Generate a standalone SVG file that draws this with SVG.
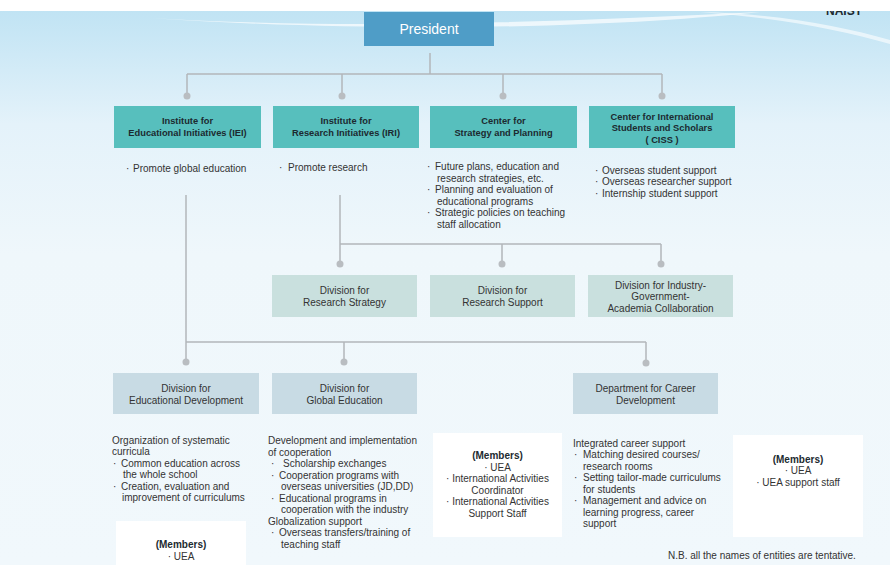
<svg xmlns="http://www.w3.org/2000/svg" width="890" height="565" viewBox="0 0 890 565">
<defs>
<linearGradient id="bg" x1="0" y1="0" x2="0" y2="1">
<stop offset="0" stop-color="#bde2f3"/>
<stop offset="0.22" stop-color="#e4f2fa"/>
<stop offset="0.45" stop-color="#eff7fb"/>
<stop offset="1" stop-color="#f1f8fc"/>
</linearGradient>
<style>
text{font-family:"Liberation Sans",Arial,sans-serif;fill:#333;font-size:10px}
.c{text-anchor:middle}
.b{font-weight:bold;fill:#1c2a30}
.t{font-size:9.3px}
.pres{fill:#4f9dc7}
.teal{fill:#57bfbd}
.divg{fill:#c9e0de}
.divb{fill:#c8dbe4}
.mem{fill:#ffffff}
.ln{stroke:#b2b6ba;stroke-width:1.5;fill:none}
.dot{fill:#b9bdc1}
</style>
</defs>
<rect x="0" y="0" width="890" height="565" fill="url(#bg)"/>
<path d="M150,18 C350,30 560,22 760,12 C650,24 420,36 150,18 Z" fill="#ffffff" opacity="0.7"/>
<path d="M700,12 C780,18 840,30 890,44 L890,40 C840,26 780,14 700,12 Z" fill="#ffffff" opacity="0.6"/>
<text x="826" y="15" class="b" style="font-size:12px">NAIST</text>
<rect x="0" y="0" width="890" height="11" fill="#ffffff"/>

<g id="connectors">
<path class="ln" d="M430,53 V74 M187,74 H662 M187,74 V95 M342,74 V95 M503,74 V95 M662,74 V95"/>
<path class="ln" d="M340,195 V264 M340,244 H661 M502,244 V264 M661,244 V264"/>
<path class="ln" d="M186,195 V362 M186,342 H646 M344,342 V362 M646,342 V362"/>
<circle class="dot" cx="187" cy="96" r="3.5"/>
<circle class="dot" cx="342" cy="96" r="3.5"/>
<circle class="dot" cx="503" cy="96" r="3.5"/>
<circle class="dot" cx="662" cy="96" r="3.5"/>
<circle class="dot" cx="340" cy="264" r="3.5"/>
<circle class="dot" cx="502" cy="264" r="3.5"/>
<circle class="dot" cx="661" cy="264" r="3.5"/>
<circle class="dot" cx="186" cy="362" r="3.5"/>
<circle class="dot" cx="344" cy="362" r="3.5"/>
<circle class="dot" cx="646" cy="363" r="3.5"/>
</g>

<g id="president">
<rect class="pres" x="364" y="12" width="130" height="34"/>
<text x="429" y="34" class="c" style="fill:#ffffff;font-size:14px">President</text>
</g>

<g id="iei">
<rect class="teal" x="114" y="106" width="147" height="42"/>
<text x="187.5" y="124" class="c b t">Institute for</text>
<text x="187.5" y="136" class="c b t">Educational Initiatives (IEI)</text>
<text y="172"><tspan x="126">·</tspan><tspan x="133">Promote global education</tspan></text>
</g>

<g id="iri">
<rect class="teal" x="273" y="106" width="146" height="42"/>
<text x="346" y="124" class="c b t">Institute for</text>
<text x="346" y="136" class="c b t">Research Initiatives (IRI)</text>
<text y="171"><tspan x="279">·</tspan><tspan x="288">Promote research</tspan></text>
</g>

<g id="csp">
<rect class="teal" x="430" y="106" width="147" height="42"/>
<text x="503.5" y="124" class="c b t">Center for</text>
<text x="503.5" y="136" class="c b t">Strategy and Planning</text>
<text y="170"><tspan x="427">·</tspan><tspan x="435">Future plans, education and</tspan></text>
<text x="437" y="181.5">research strategies, etc.</text>
<text y="193"><tspan x="427">·</tspan><tspan x="435">Planning and evaluation of</tspan></text>
<text x="437" y="204.5">educational programs</text>
<text y="216"><tspan x="427">·</tspan><tspan x="435">Strategic policies on teaching</tspan></text>
<text x="437" y="227.5">staff allocation</text>
</g>

<g id="ciss">
<rect class="teal" x="589" y="106" width="146" height="42"/>
<text x="662" y="119.5" class="c b t">Center for International</text>
<text x="662" y="131" class="c b t">Students and Scholars</text>
<text x="662" y="142.5" class="c b t">( CISS )</text>
<text y="173.5"><tspan x="595">·</tspan><tspan x="602">Overseas student support</tspan></text>
<text y="185"><tspan x="595">·</tspan><tspan x="602">Overseas researcher support</tspan></text>
<text y="196.5"><tspan x="595">·</tspan><tspan x="602">Internship student support</tspan></text>
</g>

<g id="div-research-strategy">
<rect class="divg" x="272" y="275" width="145" height="42"/>
<text x="344.5" y="294" class="c">Division for</text>
<text x="344.5" y="306" class="c">Research Strategy</text>
</g>

<g id="div-research-support">
<rect class="divg" x="430" y="275" width="145" height="42"/>
<text x="502.5" y="294" class="c">Division for</text>
<text x="502.5" y="306" class="c">Research Support</text>
</g>

<g id="div-industry">
<rect class="divg" x="588" y="275" width="145" height="42"/>
<text x="660.5" y="288.5" class="c">Division for Industry-</text>
<text x="660.5" y="300" class="c">Government-</text>
<text x="660.5" y="311.5" class="c">Academia Collaboration</text>
</g>

<g id="div-edu-dev">
<rect class="divb" x="113" y="373" width="146" height="41"/>
<text x="186" y="391.5" class="c">Division for</text>
<text x="186" y="404" class="c">Educational Development</text>
<text x="112" y="443.5">Organization of systematic</text>
<text x="112" y="455">curricula</text>
<text y="466.5"><tspan x="113">·</tspan><tspan x="121">Common education across</tspan></text>
<text x="123" y="478">the whole school</text>
<text y="489.5"><tspan x="113">·</tspan><tspan x="121">Creation, evaluation and</tspan></text>
<text x="122" y="501">improvement of curriculums</text>
</g>

<g id="members-edu">
<rect class="mem" x="116" y="521" width="130" height="44"/>
<text x="181" y="548" class="c b">(Members)</text>
<text x="181" y="560" class="c">· UEA</text>
</g>

<g id="div-global-edu">
<rect class="divb" x="272" y="373" width="145" height="41"/>
<text x="344.5" y="391.5" class="c">Division for</text>
<text x="344.5" y="404" class="c">Global Education</text>
<text x="268" y="444">Development and implementation</text>
<text x="268" y="455.5">of cooperation</text>
<text y="467"><tspan x="271">·</tspan><tspan x="283">Scholarship exchanges</tspan></text>
<text y="478.5"><tspan x="271">·</tspan><tspan x="279">Cooperation programs with</tspan></text>
<text x="281" y="490">overseas universities (JD,DD)</text>
<text y="501.5"><tspan x="271">·</tspan><tspan x="279">Educational programs in</tspan></text>
<text x="281" y="513">cooperation with the industry</text>
<text x="268" y="524.5">Globalization support</text>
<text y="536"><tspan x="271">·</tspan><tspan x="279">Overseas transfers/training of</tspan></text>
<text x="281" y="547.5">teaching staff</text>
</g>

<g id="members-global">
<rect class="mem" x="433" y="433" width="129" height="104"/>
<text x="497.5" y="459" class="c b">(Members)</text>
<text x="497.5" y="470.5" class="c">·  UEA</text>
<text x="497.5" y="482" class="c">·  International Activities</text>
<text x="497.5" y="493.5" class="c">Coordinator</text>
<text x="497.5" y="505" class="c">·  International Activities</text>
<text x="497.5" y="516.5" class="c">Support Staff</text>
</g>

<g id="dept-career">
<rect class="divb" x="573" y="373" width="145" height="41"/>
<text x="645.5" y="391.5" class="c">Department for Career</text>
<text x="645.5" y="404" class="c">Development</text>
<text x="573" y="446.5">Integrated career support</text>
<text y="458"><tspan x="574">·</tspan><tspan x="583">Matching desired courses/</tspan></text>
<text x="583" y="469.5">research rooms</text>
<text y="481"><tspan x="574">·</tspan><tspan x="583">Setting tailor-made curriculums</tspan></text>
<text x="583" y="492.5">for students</text>
<text y="504"><tspan x="574">·</tspan><tspan x="583">Management and advice on</tspan></text>
<text x="583" y="515.5">learning progress, career</text>
<text x="583" y="527">support</text>
</g>

<g id="members-career">
<rect class="mem" x="733" y="435" width="130" height="102"/>
<text x="798" y="462.5" class="c b">(Members)</text>
<text x="798" y="474" class="c">·  UEA</text>
<text x="798" y="485.5" class="c">·  UEA support staff</text>
</g>

<text x="668" y="558.5">N.B. all the names of entities are tentative.</text>
</svg>
